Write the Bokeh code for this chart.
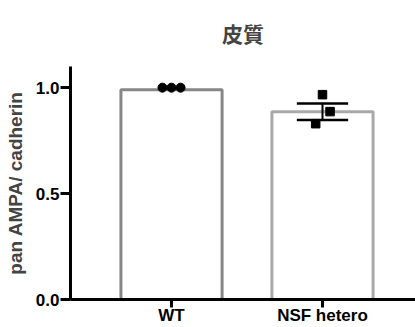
from bokeh.plotting import figure
from bokeh.models import Range1d, FixedTicker, ColumnDataSource
from bokeh.embed import file_html
from bokeh.resources import INLINE

title_text = "皮質"
y_label = "pan AMPA/ cadherin"
categories = ["WT", "NSF hetero"]
bar_means = [0.99, 0.886]
bar_sem = [0.0, 0.039]
wt_points = [1.0, 1.0, 1.0]
nsf_points = [0.967, 0.887, 0.83]
y_ticks = [0.0, 0.5, 1.0]
y_tick_labels = ["0.0", "0.5", "1.0"]
bar_colors = ["#878787", "#a9a9a9"]

wt_jitter = [-0.06, 0.0, 0.06]
nsf_jitter = [0.0, 0.05, -0.045]

xs = list(range(len(categories)))

p = figure(width=415, height=327, output_backend="svg", toolbar_location=None,
           x_range=Range1d(-0.669, 1.616), y_range=Range1d(0, 1.1),
           min_border_left=70, min_border_right=0, min_border_top=66, min_border_bottom=27)
p.outline_line_color = None
p.grid.visible = False
p.background_fill_color = "white"
p.border_fill_color = "white"

p.title.text = title_text
p.title.align = "center"
p.title.vertical_align = "top"
p.title.text_font = "Noto Sans CJK JP"
p.title.text_font_style = "bold"
p.title.text_font_size = "21px"
p.title.standoff = 33

src = ColumnDataSource(dict(x=xs, top=bar_means, color=bar_colors))
p.vbar(x="x", top="top", bottom=0, width=0.67, source=src, fill_color="white",
       line_color="color", line_width=3)

# error bars
for i, (m, s) in enumerate(zip(bar_means, bar_sem)):
    if s > 0:
        p.segment(x0=[xs[i]], x1=[xs[i]], y0=[m - s], y1=[m + s], line_color="black", line_width=2)
        p.segment(x0=[xs[i] - 0.17, xs[i] - 0.17], x1=[xs[i] + 0.17, xs[i] + 0.17],
                  y0=[m - s, m + s], y1=[m - s, m + s], line_color="black", line_width=2.5)

p.scatter([xs[0] + j for j in wt_jitter], wt_points, marker="circle", size=9,
          fill_color="black", line_color="black")
p.scatter([xs[1] + j for j in nsf_jitter], nsf_points, marker="square", size=8.5,
          fill_color="black", line_color="black")

for ax in (p.xaxis[0], p.yaxis[0]):
    ax.axis_line_width = 3
    ax.axis_line_color = "black"
    ax.major_tick_line_width = 3
    ax.major_tick_line_color = "black"
    ax.minor_tick_line_color = None
    ax.major_tick_in = 0
    ax.major_label_text_font = "Liberation Sans"
    ax.major_label_text_font_style = "bold"
    ax.major_label_text_font_size = "17px"
    ax.major_label_text_color = "black"

p.yaxis.ticker = FixedTicker(ticks=y_ticks)
p.yaxis.major_label_overrides = {t: l for t, l in zip(y_ticks, y_tick_labels)}
p.yaxis.major_tick_out = 10
p.yaxis.major_label_standoff = 1
p.yaxis.axis_label = y_label
p.yaxis.axis_label_text_font = "Liberation Sans"
p.yaxis.axis_label_text_font_style = "bold"
p.yaxis.axis_label_text_font_size = "19px"
p.yaxis.axis_label_standoff = 7

p.xaxis.ticker = FixedTicker(ticks=xs)
p.xaxis.major_label_overrides = {x: c for x, c in zip(xs, categories)}
p.xaxis.major_tick_out = 8
p.xaxis.major_label_standoff = -2

open("out.html", "w").write(file_html(p, INLINE))
